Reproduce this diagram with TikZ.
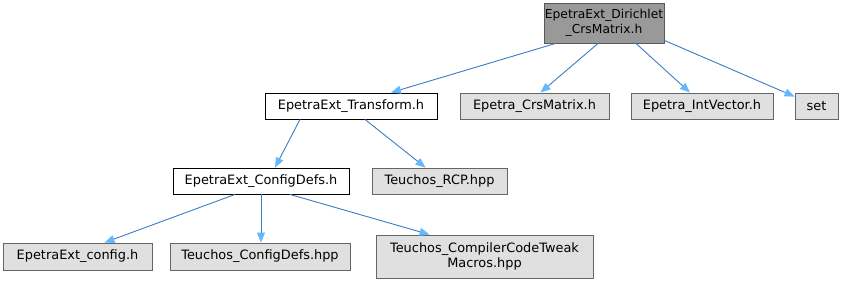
\documentclass[tikz,border=0pt]{standalone}
\usepackage{fontspec}
\setmainfont{DejaVu Sans}
\usetikzlibrary{arrows.meta}

\definecolor{edgeblue}{HTML}{3D7CC2}
\definecolor{tipblue}{HTML}{63B8FF}
\definecolor{filegray}{HTML}{E0E0E0}
\definecolor{rootgray}{HTML}{999999}

\begin{document}
\begin{tikzpicture}[x=1pt,y=-1pt,
    file_node/.style={draw=black!60,fill=filegray,line width=0.9pt,inner sep=0pt,
        minimum height=26pt,align=center,font=\fontsize{12.9}{15}\selectfont},
    own_node/.style={file_node,draw=black,fill=white},
    root_node/.style={file_node,draw=black!65,fill=rootgray,minimum height=40pt,
        font=\fontsize{12.3}{15}\selectfont},
    dep/.style={draw=edgeblue,line width=0.9pt,-{Triangle[length=10pt,width=8pt,color=tipblue,fill=tipblue]}}]
    \useasboundingbox (0,0) rectangle (845,285);
    \node[root_node,minimum width=120pt] (1) at (604,23) {EpetraExt\_Dirichlet\\\_CrsMatrix.h};
    \node[own_node,minimum width=172pt] (2) at (351,106) {EpetraExt\_Transform.h};
    \node[file_node,minimum width=149pt] (3) at (534.5,106) {Epetra\_CrsMatrix.h};
    \node[file_node,minimum width=142pt] (4) at (702,106) {Epetra\_IntVector.h};
    \node[file_node,minimum width=43pt] (5) at (816.5,106) {set};
    \node[own_node,minimum width=176pt] (6) at (261,181) {EpetraExt\_ConfigDefs.h};
    \node[file_node,minimum width=135pt] (7) at (439.5,181) {Teuchos\_RCP.hpp};
    \node[file_node,minimum width=149pt,minimum height=27pt] (8) at (77.5,256.5) {EpetraExt\_config.h};
    \node[file_node,minimum width=180pt,minimum height=27pt] (9) at (260,256.5) {Teuchos\_ConfigDefs.hpp};
    \node[file_node,minimum width=217pt,minimum height=43pt] (10) at (484.5,256.5) {Teuchos\_CompilerCodeTweak\\Macros.hpp};
    \draw[dep] ([xshift=12pt]1.south west) -- ([xshift=40pt]2.north);
    \draw[dep] ([xshift=-6pt]1.south) -- ([xshift=6pt]3.north);
    \draw[dep] ([xshift=32pt]1.south) -- ([xshift=-12pt]4.north);
    \draw[dep] ([yshift=3pt]1.south east) -- ([yshift=-4pt]5.north west);
    \draw[dep] ([xshift=-51pt]2.south) -- ([xshift=14pt]6.north);
    \draw[dep] ([xshift=14pt]2.south) -- ([xshift=-14pt]7.north);
    \draw[dep] ([xshift=-26pt]6.south) -- ([xshift=27pt]8.north);
    \draw[dep] (6.south) -- (6.south |- 9.north);
    \draw[dep] ([xshift=29pt]6.south) -- ([xshift=-55pt]10.north);
\end{tikzpicture}
\end{document}
